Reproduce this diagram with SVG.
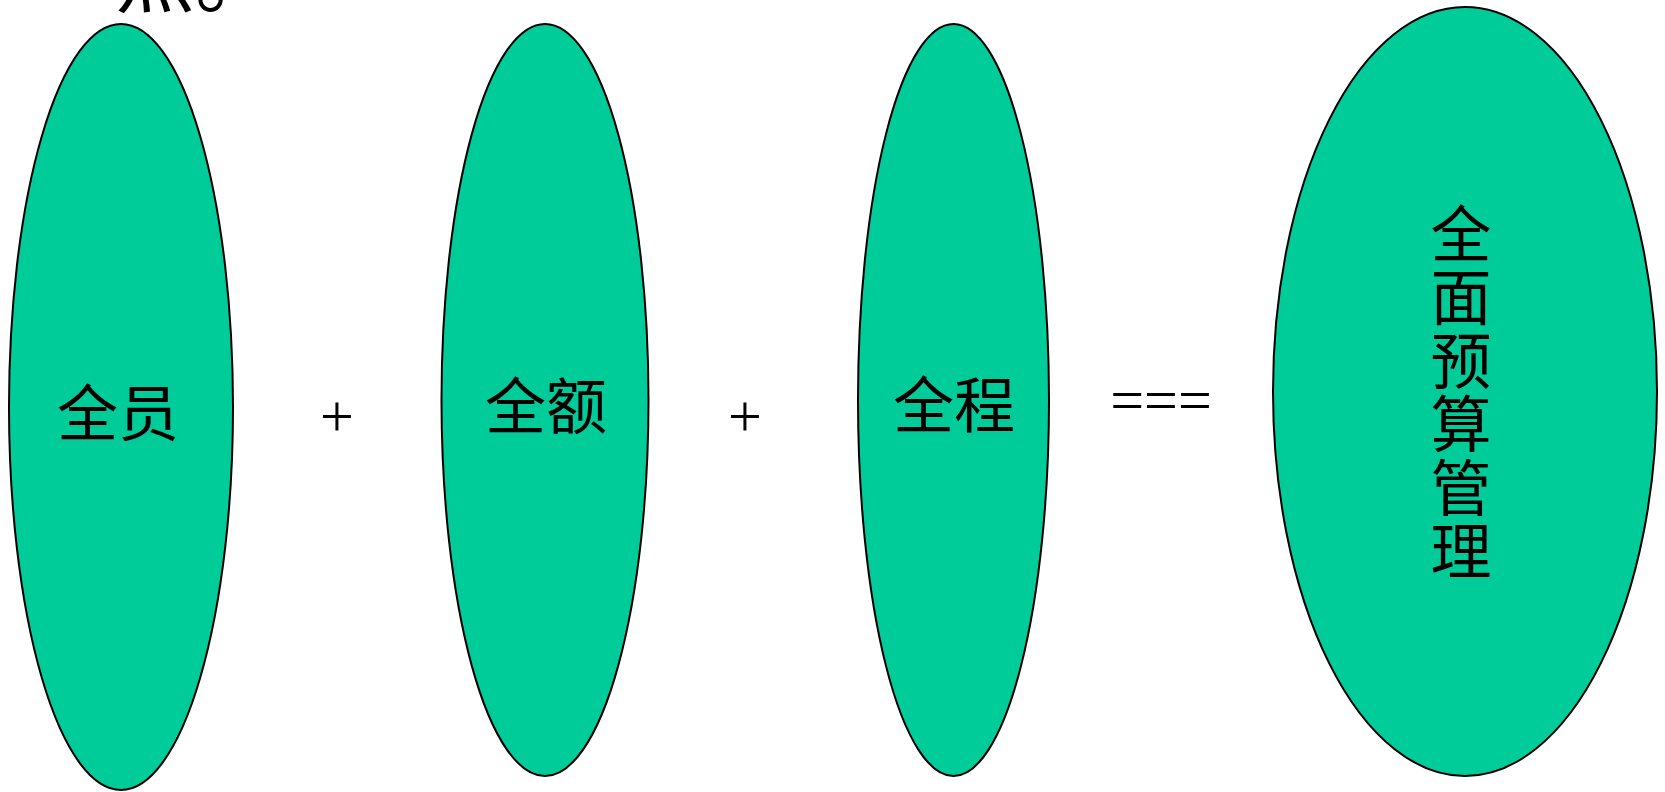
<svg xmlns="http://www.w3.org/2000/svg" width="1665" height="792" viewBox="0 0 1665 792">
<style>
.oval{fill:#00CC99;stroke:#000;stroke-width:2}
.cjk{font-family:"Noto Sans CJK SC","Noto Sans CJK JP",sans-serif;font-size:61px;fill:#000}
.op{font-family:"Liberation Serif",serif;font-size:60px;fill:#000;text-anchor:middle}
</style>
<rect width="1665" height="792" fill="#fff"/>
<text x="115" y="6" style="font-family:'Noto Sans CJK SC',sans-serif;font-size:80px;fill:#000">点。</text>
<g id="node-quanyuan">
<ellipse class="oval" cx="121" cy="407" rx="112" ry="383"/>
<text class="cjk" x="118" y="436" text-anchor="middle">全员</text>
</g>
<g id="node-quane">
<ellipse class="oval" cx="545" cy="400" rx="103.5" ry="376"/>
<text class="cjk" x="546" y="429" text-anchor="middle">全额</text>
</g>
<g id="node-quancheng">
<ellipse class="oval" cx="953.5" cy="400" rx="95.5" ry="376"/>
<text class="cjk" x="954" y="428" text-anchor="middle">全程</text>
</g>
<g id="node-result">
<ellipse class="oval" cx="1465" cy="391.5" rx="192" ry="384.5"/>
<text class="cjk" x="1461" y="203" style="writing-mode:vertical-rl;letter-spacing:2.5px">全面预算管理</text>
</g>
<g id="connectors">
<text class="op" x="337" y="436">+</text>
<text class="op" x="745" y="436">+</text>
<text class="op" x="1161" y="420">===</text>
</g>
</svg>
